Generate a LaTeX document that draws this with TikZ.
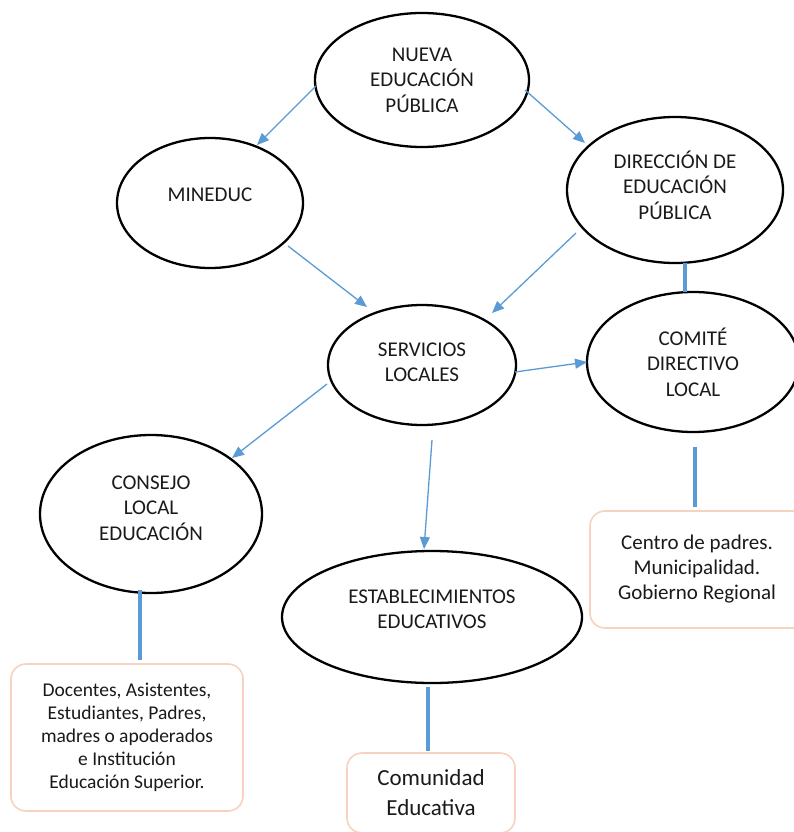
\documentclass[tikz,border=0pt]{standalone}
\usepackage{fontspec}
\setmainfont{Carlito}
\usetikzlibrary{shapes.geometric,arrows.meta}
\definecolor{arrblue}{HTML}{5B9BD5}
\definecolor{peach}{HTML}{F7D2BF}
\definecolor{txt}{HTML}{1A1A1A}
\begin{document}
\begin{tikzpicture}[x=1pt,y=-1pt,
  ell/.style={ellipse, draw=black, line width=2.3pt, inner sep=0pt},
  lbl/.style={font=\fontsize{21}{25.5}\selectfont, align=center, text=txt},
  boxed/.style={rectangle, rounded corners=15pt, draw=peach, line width=1.6pt, align=center, text=txt, inner sep=0pt},
  arr/.style={draw=arrblue, line width=1.3pt, -{Triangle[length=12pt,width=10pt]}},
  bar/.style={draw=arrblue, line width=4pt}
]
\useasboundingbox (0,0) rectangle (794,832);
\fill[white] (0,0) rectangle (794,832);

% ellipses
\node[ell, minimum width=214pt, minimum height=134pt,
      label={[lbl]center:NUEVA\\EDUCACIÓN\\PÚBLICA}] (neu) at (422,80) {};
\node[ell, minimum width=186pt, minimum height=130pt,
      label={[lbl,yshift=8pt]center:MINEDUC}] (min) at (210,203) {};
\node[ell, minimum width=216pt, minimum height=146pt,
      label={[lbl,yshift=5pt]center:DIRECCIÓN DE\\EDUCACIÓN\\PÚBLICA}] (dir) at (675,190) {};
\node[ell, minimum width=188pt, minimum height=120pt,
      label={[lbl,yshift=2.5pt]center:SERVICIOS\\LOCALES}] (serv) at (422,365) {};
\node[ell, minimum width=212pt, minimum height=140pt,
      label={[lbl]center:COMITÉ\\DIRECTIVO\\LOCAL}] (com) at (693,362) {};
\node[ell, minimum width=222pt, minimum height=158pt,
      label={[lbl,yshift=6pt]center:CONSEJO\\LOCAL\\EDUCACIÓN}] (cons) at (151,514) {};
\node[ell, minimum width=300pt, minimum height=132pt,
      label={[lbl,yshift=7.5pt]center:ESTABLECIMIENTOS\\EDUCATIVOS}] (est) at (432,617) {};

% boxes
\node[boxed, minimum width=232pt, minimum height=147pt,
      font=\fontsize{19.5}{23}\selectfont] (doc) at (127,737.5)
  {Docentes, Asistentes,\\Estudiantes, Padres,\\madres o apoderados\\e Institución\\Educación Superior.};
\node[boxed, minimum width=224pt, minimum height=117pt, align=left,
      font=\fontsize{21}{25}\selectfont] (cen) at (702,569.5)
  {\begin{tabular}{@{}c@{}}Centro de padres.\\Municipalidad.\\Gobierno Regional\end{tabular}\hspace*{10pt}};
\node[boxed, minimum width=168pt, minimum height=80pt,
      font=\fontsize{23}{30}\selectfont] (comu) at (431,793)
  {Comunidad\\Educativa};

% arrows
\draw[arr] ([shift={(-106,6)}]neu.center) -- ([shift={(47,-58)}]min.center);
\draw[arr] ([shift={(103,10)}]neu.center) -- ([shift={(-90,-47)}]dir.center);
\draw[arr] ([shift={(78,43)}]min.center) -- ([shift={(-55,-58)}]serv.center);
\draw[arr] ([shift={(-99,43)}]dir.center) -- ([shift={(70,-52)}]serv.center);
\draw[arr] ([shift={(93,7)}]serv.center) -- ([shift={(-106,0)}]com.center);
\draw[arr] ([shift={(-95,19)}]serv.center) -- ([shift={(81,-56)}]cons.center);
\draw[arr] ([shift={(10,75)}]serv.center) -- ([shift={(-8,-68)}]est.center);

% plain bars
\draw[bar] ([shift={(10,73)}]dir.center) -- ([shift={(-8,-70)}]com.center);
\draw[bar] ([shift={(2,85)}]com.center) -- ([shift={(-7,-62.5)}]cen.center);
\draw[bar] ([shift={(-11,76)}]cons.center) -- ([shift={(13,-77.5)}]doc.center);
\draw[bar] ([shift={(-4,70)}]est.center) -- ([shift={(-3,-42.5)}]comu.center);
\end{tikzpicture}
\end{document}
